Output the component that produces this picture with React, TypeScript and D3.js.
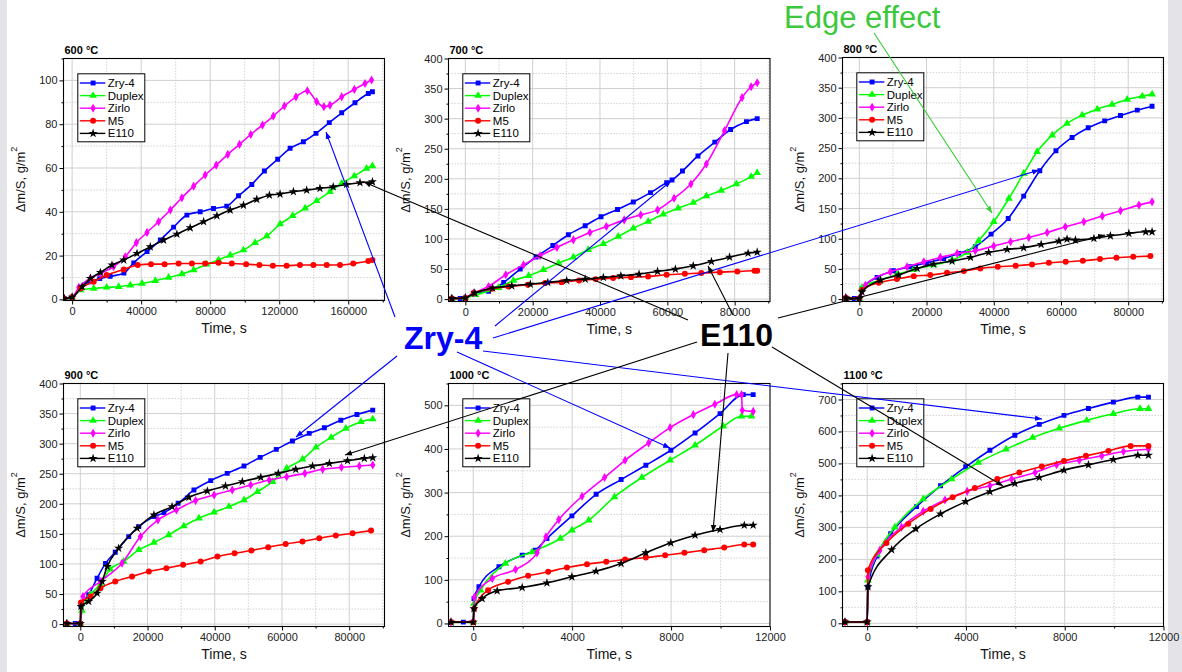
import React, { useEffect, useRef } from "react";
import * as d3 from "d3";

type Pt = [number, number];

const seriesNames = ["Zry-4", "Duplex", "Zirlo", "M5", "E110"];
const seriesColors = ["#0000ff", "#00ff00", "#ff00ff", "#ff0000", "#000000"];

// ---------- 600 °C ----------
const zry4_600: Pt[] = [[-4500,0.3],[0,1],[5000,5],[10000,8],[16000,9.5],[22000,10.5],[30000,12],[35700,16.7],[43400,21.8],[51100,27.1],[58800,33],[66500,38.5],[74200,40],[81900,41.5],[89600,42.6],[96400,47.3],[104100,52.5],[111400,58.6],[119100,64],[126300,69],[134000,72],[141300,75.8],[149000,80.7],[156200,85.2],[163900,89.8],[171600,94],[174000,94.8]];
const duplex_600: Pt[] = [[-4500,0.3],[0,1],[4800,4.3],[12500,5],[20000,5.5],[27000,5.8],[33700,6.5],[40500,7.3],[48200,8.5],[55900,10],[63600,11.6],[70400,13.4],[78000,16.1],[84800,18],[91600,20.2],[99300,22.5],[106000,25.9],[112800,28.9],[120500,34.4],[127800,38.2],[135000,41.6],[141700,45],[149400,49.2],[156200,53],[163500,56.3],[170600,59.8],[174000,60.9]];
const zirlo_600: Pt[] = [[-4500,0.3],[0,1],[3900,5.5],[10600,9.6],[16400,11.9],[24000,14.9],[30800,19.5],[37200,25.9],[43400,30.6],[50100,35.5],[56900,40.8],[63600,46.4],[70400,51.7],[77100,56.8],[83500,61.3],[90200,66.2],[97000,70.8],[103500,75.3],[110300,79.6],[116600,83.7],[123000,88.3],[129700,92.5],[136300,95.3],[141700,90.3],[145900,88],[149400,88.7],[156200,92.5],[163500,95.9],[169700,98.6],[173500,100.2]];
const m5_600: Pt[] = [[-4500,0.3],[0,1],[4800,5],[12500,8.1],[20000,11.1],[29900,13.7],[38000,15.7],[45700,16.1],[53600,16.1],[61700,16.4],[69400,16.4],[77100,16.4],[84800,16.7],[92500,16.4],[100800,16.1],[108500,15.7],[116300,15.4],[124300,15.4],[132000,15.7],[139800,15.7],[147500,15.7],[155200,15.7],[162900,16.4],[171600,17.5],[174000,18]];
const e110_600: Pt[] = [[-4500,0.3],[0,1],[5800,5.8],[10600,9.6],[16400,12.3],[23100,15.7],[29900,18],[37600,21],[45300,24],[53000,27.1],[60700,29.8],[68400,32.7],[76200,35.5],[83900,38.2],[91600,40.8],[99300,43],[107000,45.7],[114300,47.6],[120500,48.1],[128200,49.2],[135900,49.9],[143600,50.7],[151300,51.4],[159000,52.5],[166800,53.3],[174000,53.7]];

// ---------- 700 °C ----------
const zry4_700: Pt[] = [[-4000,1],[-1500,1],[0,2],[2500,10],[6900,13],[11400,27.7],[16300,50],[21000,70],[26000,89],[30600,107],[35600,122],[40300,137],[45200,149],[49900,161.5],[55000,177],[59800,193.6],[61400,198],[64500,213],[69100,238],[74100,261],[78800,282],[83500,295],[86700,300]];
const duplex_700: Pt[] = [[-4000,1],[0,2],[3000,7],[9900,19],[14300,31],[18800,38.7],[23200,48.7],[27700,59.8],[32100,69.7],[36500,82],[41000,91.8],[45400,104],[49900,117.8],[54300,129],[58800,141],[63200,151],[67700,160.4],[71600,171.5],[76000,180.4],[80500,191.4],[84900,203.6],[86700,210]];
const zirlo_700: Pt[] = [[-4000,1],[0,2],[2500,10],[6900,21],[12000,40.4],[17300,57],[22200,72],[27200,85.8],[32100,98.5],[37000,110.7],[41900,120.6],[47200,131.7],[52100,140],[57100,148.3],[62000,167.6],[67000,191.4],[71600,224.6],[77000,280],[82200,335],[84900,353],[86700,359.6]];
const m5_700: Pt[] = [[-4000,1],[0,2],[2500,10],[7900,17],[12800,21],[18600,23.8],[23700,26.6],[28600,28.2],[33800,31],[38700,33.2],[43900,34.9],[49200,36.5],[54300,37.6],[59800,40.4],[65200,42],[70100,43.2],[75600,44.8],[80800,45.9],[85900,47],[86700,47]];
const e110_700: Pt[] = [[-4000,1],[0,2],[2800,10],[8100,18.3],[13800,22],[19300,24.9],[24500,27.7],[30100,31],[35600,33.2],[41000,36],[46200,38.7],[51600,41.5],[57100,46],[62400,49.8],[67700,55.3],[73100,62.5],[78500,69.7],[84000,76.3],[86700,78]];

// ---------- 800 °C ----------
const zry4_800: Pt[] = [[-4000,2],[-1500,1],[0,1],[800,17.7],[5300,36],[10200,47],[15200,53.5],[20100,60],[25100,67.3],[29600,75.6],[34500,86.6],[39200,107.6],[44300,133.5],[48900,170.5],[53700,212.4],[58500,245.5],[63300,267.6],[68100,283.6],[73000,295],[77700,304],[82700,312.8],[87100,319.4]];
const duplex_800: Pt[] = [[-4000,2],[0,1],[800,19.3],[6300,31.4],[11200,40.8],[16200,49.1],[22100,56.3],[27600,64.6],[32100,77.2],[35500,96.6],[40000,128],[44500,166.6],[48900,208],[52900,243.9],[57400,271.4],[61800,290.8],[66300,304.6],[70800,314.5],[75200,322.2],[79700,330.5],[84200,336],[87100,339.3]];
const zirlo_800: Pt[] = [[-4000,2],[0,1],[1800,23],[9200,45],[14200,53.5],[19200,61.8],[24100,69],[29100,75.6],[34500,80],[40000,87.7],[45000,94.9],[50400,102],[55900,110.3],[61300,119.7],[66800,128],[72300,137.4],[77700,146.2],[83200,155.6],[87100,161]];
const m5_800: Pt[] = [[-4000,2],[0,1],[800,15],[5800,27],[11200,33.1],[16200,38],[21100,39.7],[26100,43.6],[31100,46.3],[36000,50.8],[41200,53.5],[46500,55.2],[51400,57.4],[56400,60.1],[61400,61.8],[66500,63.4],[71600,66.2],[76500,68.4],[81500,70],[86600,71.2]];
const e110_800: Pt[] = [[-4000,2],[0,1],[800,12],[6300,31.4],[11700,39.7],[17200,50.8],[22100,57.9],[27600,62.9],[33100,69],[38500,77.2],[44000,82.2],[48900,85],[54100,90.5],[59400,96],[61800,99.3],[64300,97.7],[69800,100.4],[74700,104.8],[80200,108.7],[85200,111.4],[87100,111.4]];

// ---------- 900 °C ----------
const zry4_900: Pt[] = [[-4000,1],[-1500,1],[0,1],[200,30.4],[2500,48.7],[5000,76.3],[7500,101],[10400,119.5],[14400,145.5],[17400,162],[21900,178.7],[24900,185.3],[29100,200.8],[33800,223],[38800,238.5],[43700,250.6],[48700,262.8],[53500,277.2],[58300,290.5],[63100,304.3],[68100,317],[72600,326.4],[77500,339],[82300,348.5],[87000,355.7]];
const duplex_900: Pt[] = [[-4000,1],[0,1],[500,22.7],[3000,48.7],[6000,66.4],[8900,91.3],[12900,104],[17400,123.4],[21900,135.5],[26300,148.3],[30800,163.2],[35300,176],[39800,186],[44200,195.3],[48700,206.4],[52700,220],[57200,236.8],[61400,259],[66100,273.9],[70100,293.8],[74600,310.4],[79000,325.3],[83500,336.4],[87000,340.8]];
const zirlo_900: Pt[] = [[-4000,1],[0,1],[800,45.9],[6000,70.8],[12400,101.2],[17900,145.5],[23100,173.2],[28600,189.8],[34300,205.3],[39800,214.7],[45200,223],[50700,231.3],[56200,239.6],[61400,245],[66800,250.6],[72100,257.3],[77700,260.6],[83000,262.8],[87000,264.5]];
const m5_900: Pt[] = [[-4000,1],[0,1],[200,36],[3000,46],[6000,59.8],[10400,70.8],[15400,79.1],[20400,87.4],[25600,93],[30600,98.5],[35800,104],[40800,112.3],[45900,117.8],[50900,122.3],[55900,127.8],[61100,133.3],[66100,137.2],[71100,142.7],[76000,147.2],[81000,151],[86500,155.5]];
const e110_900: Pt[] = [[-4000,1],[0,1],[200,29.3],[2500,37.6],[5000,51.5],[6500,70.8],[8000,95.7],[11400,126.1],[16900,159.3],[21900,181.5],[27300,195.3],[32300,210.8],[37800,221.3],[43200,229.6],[48200,236.8],[53700,244],[58900,250.6],[64100,257.3],[69100,262.8],[74100,267.2],[79500,271.6],[84500,275.5],[87000,276.6]];

// ---------- 1000 °C ----------
const zry4_1000: Pt[] = [[-900,3],[-400,3],[0,3],[30,57],[230,84],[1040,130],[1980,156.5],[2510,168],[2980,194.7],[3990,246.6],[4970,296],[5980,329.8],[6980,362.6],[7990,397],[8970,436.6],[9980,481],[10920,524.4],[11320,524.4]];
const duplex_1000: Pt[] = [[-900,3],[0,3],[30,45.8],[300,76.3],[1300,137.4],[2380,164],[3520,194.7],[3990,213.7],[4670,236.6],[5710,290],[6820,334.4],[7960,374],[8970,408.4],[10110,452],[10850,474.8],[11250,474.8]];
const zirlo_1000: Pt[] = [[-900,3],[0,5],[50,60],[770,103],[1710,123.7],[2580,161.8],[2940,198.5],[3460,238],[4400,291.6],[5310,334.4],[6140,374],[7090,413.7],[7960,448.9],[8900,478.6],[9770,502.3],[10650,524.4],[10850,524.4],[10880,488.5],[11320,486]];
const m5_1000: Pt[] = [[-900,3],[0,3],[40,34],[600,76.3],[1410,95.4],[2220,109.2],[3030,118.3],[3790,128.2],[4600,135.9],[5380,141.2],[6140,146.6],[6980,151],[7760,156.5],[8540,161.8],[9340,168],[10150,174],[10960,181],[11320,181]];
const e110_1000: Pt[] = [[-900,3],[0,3],[30,34],[360,57],[970,74.8],[1980,82.4],[2980,93],[3990,106.9],[4970,119.8],[5980,137.4],[6980,161.8],[7990,184.7],[8970,202.3],[9980,215.3],[10960,225.2],[11320,225.2]];

// ---------- 1100 °C ----------
const zry4_1100: Pt[] = [[-900,4],[0,4],[30,114],[400,210],[950,280],[2000,365],[2970,430],[3990,489.5],[4970,541.3],[5980,588],[6970,622.2],[7970,650.2],[8960,672],[9970,691.7],[10960,707.3],[11390,707.3]];
const duplex_1100: Pt[] = [[-900,4],[0,4],[30,135],[400,215],[1120,300.7],[2270,388.9],[3420,451],[4500,503],[5620,544.4],[6700,580.7],[7780,609.8],[8890,634.7],[9970,655.4],[11050,671],[11390,671]];
const zirlo_1100: Pt[] = [[-900,4],[0,4],[30,145],[510,228],[1390,300.7],[2270,350.5],[3150,385.8],[4050,412.7],[4970,430.4],[5850,451.1],[6800,471.8],[7670,495.7],[8590,510.2],[9500,523.7],[10380,537.2],[11390,544.4]];
const m5_1100: Pt[] = [[-900,4],[0,4],[30,166],[780,251],[1660,311],[2570,357.8],[3460,394],[4360,423],[5270,451],[6160,471.8],[7070,490.5],[7970,508],[8860,523.7],[9770,539.3],[10670,554.8],[11390,554.8]];
const e110_1100: Pt[] = [[-900,4],[0,4],[30,114],[990,230],[1970,295.5],[2970,342.2],[3990,380.6],[4970,411.7],[5980,437.6],[6970,456.3],[7970,479.1],[8960,495.7],[9970,512.3],[10960,525.8],[11390,525.8]];

// tick values
const xTicksLong = [0, 40000, 80000, 120000, 160000];
const xTicksMid = [0, 20000, 40000, 60000, 80000];
const xTicksShort = [0, 4000, 8000, 12000];
const yTicks110 = [0, 20, 40, 60, 80, 100];
const yTicks400 = [0, 50, 100, 150, 200, 250, 300, 350, 400];
const yTicks500 = [0, 100, 200, 300, 400, 500];
const yTicks700 = [0, 100, 200, 300, 400, 500, 600, 700];

const titles = ["600 °C", "700 °C", "800 °C", "900 °C", "1000 °C", "1100 °C"];

const panelSeries: Pt[][][] = [
  [zry4_600, duplex_600, zirlo_600, m5_600, e110_600],
  [zry4_700, duplex_700, zirlo_700, m5_700, e110_700],
  [zry4_800, duplex_800, zirlo_800, m5_800, e110_800],
  [zry4_900, duplex_900, zirlo_900, m5_900, e110_900],
  [zry4_1000, duplex_1000, zirlo_1000, m5_1000, e110_1000],
  [zry4_1100, duplex_1100, zirlo_1100, m5_1100, e110_1100],
];

interface Panel {
  left: number; right: number; top: number; bottom: number;
  xDomain: [number, number]; yDomain: [number, number];
  xTicks: number[]; xMinorStep: number; yTicks: number[]; yMinorStep: number;
}

const panels: Panel[] = [
  { left: 63.5, right: 384.5, top: 58.5, bottom: 300.5, xDomain: [-5000, 181000], yDomain: [-0.5, 110], xTicks: xTicksLong, xMinorStep: 20000, yTicks: yTicks110, yMinorStep: 10 },
  { left: 448.5, right: 770, top: 58.5, bottom: 301.5, xDomain: [-5000, 90500], yDomain: [-4, 400], xTicks: xTicksMid, xMinorStep: 10000, yTicks: yTicks400, yMinorStep: 25 },
  { left: 842.5, right: 1163.5, top: 57.5, bottom: 301.5, xDomain: [-5000, 90500], yDomain: [-4, 400], xTicks: xTicksMid, xMinorStep: 10000, yTicks: yTicks400, yMinorStep: 25 },
  { left: 63.5, right: 384.5, top: 383.5, bottom: 626.5, xDomain: [-5000, 90500], yDomain: [-4, 400], xTicks: xTicksMid, xMinorStep: 10000, yTicks: yTicks400, yMinorStep: 25 },
  { left: 448.5, right: 770, top: 383.5, bottom: 626.5, xDomain: [-1000, 12000], yDomain: [-7, 550], xTicks: xTicksShort, xMinorStep: 2000, yTicks: yTicks500, yMinorStep: 50 },
  { left: 842.5, right: 1163.5, top: 383.5, bottom: 626.5, xDomain: [-1000, 12000], yDomain: [-10, 750], xTicks: xTicksShort, xMinorStep: 2000, yTicks: yTicks700, yMinorStep: 50 },
];

// annotation callouts (label anchor points and arrow targets in page pixels)
const zryLines: [number, number, number, number][] = [
  [395, 317, 326, 132], [495, 326, 671, 181], [493, 338, 1039, 170],
  [397, 356, 296, 437], [457, 352, 670, 448], [483, 351, 1042, 419],
];
const e110Lines: [number, number, number, number][] = [
  [688, 320, 364, 182], [733, 315, 708, 266], [778, 318, 1105, 235],
  [697, 342, 345, 455], [728, 353, 713, 532], [772, 347, 1003, 486],
];

const FONT = "'Liberation Sans', Arial, sans-serif";

function symbolPath(i: number, size: number) {
  const types = [d3.symbolSquare, d3.symbolTriangle, d3.symbolDiamond, d3.symbolCircle, d3.symbolStar];
  return d3.symbol().type(types[i]).size(size)() as string;
}
const symSizes = [24, 26, 24, 28, 26];

function range(a: number, b: number, step: number) {
  const out: number[] = [];
  const start = Math.ceil(a / step) * step;
  for (let v = start; v <= b + 1e-9; v += step) out.push(v);
  return out;
}

export default function App() {
  const ref = useRef<SVGSVGElement | null>(null);

  useEffect(() => {
    const svg = d3.select(ref.current);
    svg.selectAll("*").remove();
    const defs = svg.append("defs");
    ["#0000ff", "#000000", "#33cc33"].forEach((c, i) => {
      defs.append("marker").attr("id", "arr" + i).attr("viewBox", "0 0 10 10")
        .attr("refX", 10).attr("refY", 5).attr("markerWidth", 7).attr("markerHeight", 7)
        .attr("markerUnits", "userSpaceOnUse").attr("orient", "auto")
        .append("path").attr("d", "M0,1 L10,5 L0,9 z").attr("fill", c);
    });

    svg.append("rect").attr("x", 0).attr("y", 0).attr("width", 1182).attr("height", 672).attr("fill", "#ffffff");
    svg.append("rect").attr("x", 0).attr("y", 0).attr("width", 7).attr("height", 672).attr("fill", "#e4e4e8");
    svg.append("rect").attr("x", 1168).attr("y", 0).attr("width", 14).attr("height", 672).attr("fill", "#e4e4e8");

    panels.forEach((p, pi) => {
      const g = svg.append("g");
      const x = d3.scaleLinear().domain(p.xDomain).range([p.left, p.right]);
      const y = d3.scaleLinear().domain(p.yDomain).range([p.bottom, p.top]);
      const xMin = range(p.xDomain[0], p.xDomain[1], p.xMinorStep).filter(v => !p.xTicks.includes(v));
      const yMin = range(p.yDomain[0], p.yDomain[1], p.yMinorStep).filter(v => !p.yTicks.includes(v));

      // grid
      g.append("g").selectAll("line").data(xMin).join("line")
        .attr("x1", d => x(d)).attr("x2", d => x(d)).attr("y1", p.top).attr("y2", p.bottom)
        .attr("stroke", "#c8c8c8").attr("stroke-width", 0.8).attr("stroke-dasharray", "1.5,1.5");
      g.append("g").selectAll("line").data(yMin).join("line")
        .attr("y1", d => y(d)).attr("y2", d => y(d)).attr("x1", p.left).attr("x2", p.right)
        .attr("stroke", "#c8c8c8").attr("stroke-width", 0.8).attr("stroke-dasharray", "1.5,1.5");
      g.append("g").selectAll("line").data(p.xTicks.filter(v => v > p.xDomain[0] && v < p.xDomain[1])).join("line")
        .attr("x1", d => x(d)).attr("x2", d => x(d)).attr("y1", p.top).attr("y2", p.bottom)
        .attr("stroke", "#cfcfcf").attr("stroke-width", 1);
      g.append("g").selectAll("line").data(p.yTicks.filter(v => v > p.yDomain[0] && v < p.yDomain[1])).join("line")
        .attr("y1", d => y(d)).attr("y2", d => y(d)).attr("x1", p.left).attr("x2", p.right)
        .attr("stroke", "#cfcfcf").attr("stroke-width", 1);

      // axes
      const xa = g.append("g").attr("transform", `translate(0,${p.bottom})`)
        .call(d3.axisBottom(x).tickValues(p.xTicks).tickSize(4).tickPadding(3).tickFormat(d3.format("d")));
      const xm = g.append("g").attr("transform", `translate(0,${p.bottom})`)
        .call(d3.axisBottom(x).tickValues(xMin).tickSize(2).tickFormat(() => ""));
      const ya = g.append("g").attr("transform", `translate(${p.left},0)`)
        .call(d3.axisLeft(y).tickValues(p.yTicks).tickSize(4).tickPadding(2).tickFormat(d3.format("d")));
      const ym = g.append("g").attr("transform", `translate(${p.left},0)`)
        .call(d3.axisLeft(y).tickValues(yMin).tickSize(2).tickFormat(() => ""));
      [xa, xm, ya, ym].forEach(a => {
        a.select(".domain").remove();
        a.selectAll("line").attr("stroke", "#000");
        a.selectAll("text").attr("font-family", FONT).attr("font-size", 11).attr("fill", "#222");
      });

      // clip
      const cid = "clip" + pi;
      defs.append("clipPath").attr("id", cid).append("rect")
        .attr("x", p.left).attr("y", p.top).attr("width", p.right - p.left).attr("height", p.bottom - p.top);

      const plot = g.append("g").attr("clip-path", `url(#${cid})`);
      const line = d3.line<Pt>().x(d => x(d[0])).y(d => y(d[1])).curve(d3.curveMonotoneX);
      panelSeries[pi].forEach((data, si) => {
        plot.append("path").attr("d", line(data) as string).attr("fill", "none")
          .attr("stroke", seriesColors[si]).attr("stroke-width", 1.6);
        plot.append("g").selectAll("path").data(data).join("path")
          .attr("transform", d => `translate(${x(d[0])},${y(d[1])})`)
          .attr("d", symbolPath(si, symSizes[si])).attr("fill", seriesColors[si]);
      });

      // frame
      g.append("rect").attr("x", p.left).attr("y", p.top).attr("width", p.right - p.left)
        .attr("height", p.bottom - p.top).attr("fill", "none").attr("stroke", "#000").attr("stroke-width", 1.1);

      // title
      g.append("text").attr("x", p.left + 1).attr("y", p.top - 4.5).text(titles[pi])
        .attr("font-family", FONT).attr("font-size", 11).attr("font-weight", "bold").attr("fill", "#000");

      // axis titles
      g.append("text").attr("x", (p.left + p.right) / 2).attr("y", p.bottom + 32).attr("text-anchor", "middle")
        .attr("font-family", FONT).attr("font-size", 14).attr("fill", "#111").text("Time, s");
      const yl = g.append("text").attr("transform", `translate(${p.left - 44},${(p.top + p.bottom) / 2}) rotate(-90)`)
        .attr("text-anchor", "middle").attr("dominant-baseline", "central")
        .attr("font-family", FONT).attr("font-size", 13).attr("fill", "#111");
      yl.append("tspan").text("Δm/S, g/m");
      yl.append("tspan").attr("font-size", 9).attr("dy", -6).text("2");

      // legend
      const lx = p.left + 14.3, ly = p.top + 15.3;
      const lg = g.append("g");
      lg.append("rect").attr("x", lx).attr("y", ly).attr("width", 67).attr("height", 68)
        .attr("fill", "#fff").attr("stroke", "#000").attr("stroke-width", 1);
      seriesNames.forEach((nm, si) => {
        const cy = ly + 9.2 + si * 12.6;
        lg.append("line").attr("x1", lx + 2).attr("x2", lx + 27.5).attr("y1", cy).attr("y2", cy)
          .attr("stroke", seriesColors[si]).attr("stroke-width", 1.4);
        lg.append("path").attr("transform", `translate(${lx + 15.3},${cy})`)
          .attr("d", symbolPath(si, symSizes[si])).attr("fill", seriesColors[si]);
        lg.append("text").attr("x", lx + 30).attr("y", cy).attr("dominant-baseline", "central")
          .attr("font-family", FONT).attr("font-size", 11.5).attr("fill", "#000").text(nm);
      });
    });

    // annotations
    const ann = svg.append("g");
    zryLines.forEach(l => {
      ann.append("line").attr("x1", l[0]).attr("y1", l[1]).attr("x2", l[2]).attr("y2", l[3])
        .attr("stroke", "#0000ff").attr("stroke-width", 1.1).attr("marker-end", "url(#arr0)");
    });
    e110Lines.forEach(l => {
      ann.append("line").attr("x1", l[0]).attr("y1", l[1]).attr("x2", l[2]).attr("y2", l[3])
        .attr("stroke", "#000").attr("stroke-width", 1.1).attr("marker-end", "url(#arr1)");
    });
    ann.append("line").attr("x1", 874).attr("y1", 33).attr("x2", 992).attr("y2", 213)
      .attr("stroke", "#33cc33").attr("stroke-width", 1.1).attr("marker-end", "url(#arr2)");

    ann.append("text").attr("x", 404).attr("y", 349).text("Zry-4")
      .attr("font-family", FONT).attr("font-size", 32).attr("font-weight", "bold").attr("fill", "#0000ff");
    ann.append("text").attr("x", 700).attr("y", 346).text("E110")
      .attr("font-family", FONT).attr("font-size", 32).attr("font-weight", "bold").attr("fill", "#000");
    ann.append("text").attr("x", 784).attr("y", 28).text("Edge effect")
      .attr("font-family", FONT).attr("font-size", 31).attr("fill", "#3cc83c");
  }, []);

  return (
    <svg ref={ref} width={1182} height={672}
      style={{ position: "fixed", left: 0, top: 0, display: "block" }} />
  );
}
